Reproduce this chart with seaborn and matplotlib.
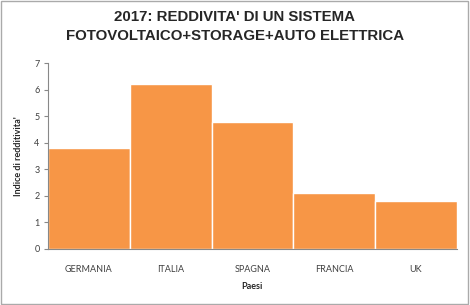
import matplotlib
matplotlib.use("Agg")
import matplotlib.pyplot as plt
import seaborn as sns
import pandas as pd

paesi = ['GERMANIA', 'ITALIA', 'SPAGNA', 'FRANCIA', 'UK']
indice = [3.8, 6.2, 4.8, 2.1, 1.8]
titolo = "2017: REDDIVITA' DI UN SISTEMA\nFOTOVOLTAICO+STORAGE+AUTO ELETTRICA"

sns.set_style("white")
plt.rcParams['font.family'] = ['Lato', 'DejaVu Sans']

df = pd.DataFrame({'Paesi': paesi, 'Indice': indice})

fig = plt.figure(figsize=(4.7, 3.05), dpi=100)
ax = fig.add_axes([0.102, 0.184, 0.870, 0.609])
sns.barplot(data=df, x='Paesi', y='Indice', color='#F79646', saturation=1,
            width=1.0, edgecolor='white', linewidth=1, ax=ax)

ax.set_ylim(0, 7)
ax.set_xlim(-0.5, 4.5)
ax.set_yticks(range(0, 8))
ax.tick_params(axis='y', left=True, length=3, color='#888888', labelsize=6.5, labelcolor='#404040', pad=3)
ax.tick_params(axis='x', bottom=False, labelsize=6.5, labelcolor='#404040', pad=8)
for s in ['top', 'right']:
    ax.spines[s].set_visible(False)
for s in ['left', 'bottom']:
    ax.spines[s].set_color('#888888')
    ax.spines[s].set_linewidth(0.8)

ax.set_xlabel('Paesi', fontsize=6.5, fontweight='bold', labelpad=6)
ax.set_ylabel("Indice di redditivita'", fontsize=6.5, fontweight='bold', labelpad=8)

fig.text(0.5, 0.968, titolo, ha='center', va='top', fontsize=10.8, fontweight='bold',
         family=['Liberation Sans', 'DejaVu Sans'], linespacing=1.5)

fig.patches.append(plt.Rectangle((0.002, 0.003), 0.994, 0.994, transform=fig.transFigure,
                                 fill=False, edgecolor='#AAAAAA', linewidth=1))

fig.savefig('out.png', dpi=100)
